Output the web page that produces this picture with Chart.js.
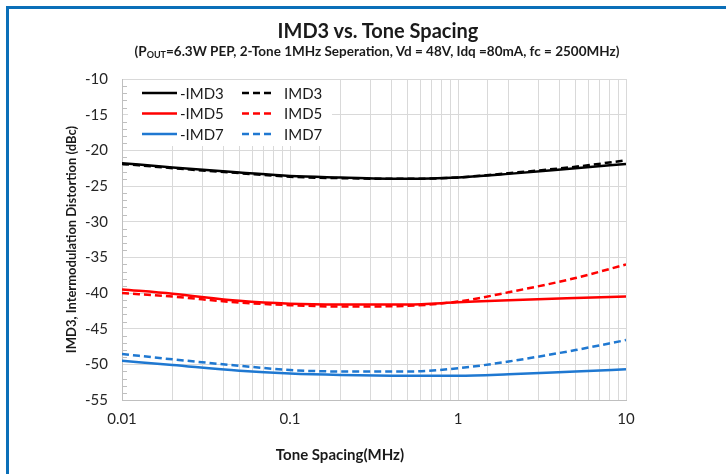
<!DOCTYPE html>
<html>
<head>
<meta charset="utf-8">
<script src="https://cdn.jsdelivr.net/npm/chart.js@4.4.0/dist/chart.umd.min.js"></script>
<style>
  html, body { margin: 0; padding: 0; background: #fff; }
  #wrap { position: relative; width: 726px; height: 474px; overflow: hidden; font-family: Lato, "Open Sans", sans-serif; color: #1a1a1a; }
  #frame { position: absolute; left: 6px; top: 6px; width: 760px; height: 500px; border-top: 3px solid #0b6fb8; border-left: 3px solid #0b6fb8; }
  .txt { position: absolute; white-space: nowrap; font-weight: bold; transform: translateX(-50%); }
  #title { left: 378px; top: 18px; font-size: 20px; }
  #subtitle { left: 377px; top: 43px; font-size: 13.5px; }
  #subtitle sub { font-size: 9px; vertical-align: -2px; }
  #xtitle { left: 340px; top: 445px; font-size: 15px; }
  canvas { position: absolute; left: 0; top: 0; }
</style>
</head>
<body>
<div id="wrap">
  <canvas id="myChart" width="726" height="474"></canvas>
  <div id="frame"></div>
  <div class="txt" id="title">IMD3 vs. Tone Spacing</div>
  <div class="txt" id="subtitle">(P<sub>OUT</sub>=6.3W PEP, 2-Tone 1MHz Seperation, Vd = 48V, Idq =80mA, fc = 2500MHz)</div>
  <div class="txt" id="xtitle">Tone Spacing(MHz)</div>
</div>
<script>
// tone spacing in MHz (log axis)
const toneSpacing = [0.01, 0.02, 0.05, 0.1, 0.2, 0.5, 1, 2, 5, 10];

// dBc values
const imd3Lower = [-21.8, -22.4, -23.1, -23.6, -23.8, -24.0, -23.8, -23.3, -22.5, -21.9];
const imd3Upper = [-21.9, -22.5, -23.2, -23.7, -23.9, -24.0, -23.8, -23.2, -22.3, -21.4];
const imd5Lower = [-39.5, -40.1, -41.1, -41.5, -41.6, -41.6, -41.3, -41.0, -40.7, -40.5];
const imd5Upper = [-40.0, -40.5, -41.35, -41.7, -41.9, -41.8, -41.2, -39.9, -37.9, -36.0];
const imd7Lower = [-49.5, -50.1, -50.9, -51.3, -51.5, -51.6, -51.6, -51.4, -51.0, -50.7];
const imd7Upper = [-48.55, -49.3, -50.2, -50.8, -51.0, -51.0, -50.55, -49.6, -48.0, -46.6];

const seriesNames = ['-IMD3', 'IMD3', '-IMD5', 'IMD5', '-IMD7', 'IMD7'];
const seriesValues = [imd3Lower, imd3Upper, imd5Lower, imd5Upper, imd7Lower, imd7Upper];
const seriesColors = ['#000000', '#000000', '#ff0000', '#ff0000', '#1f78d1', '#1f78d1'];

const yMin = -55, yMax = -10;

const FONT = 'Lato, "Open Sans", sans-serif';

const toPoints = (vals) => vals.map((v, i) => ({ x: toneSpacing[i], y: v }));

// legend drawn inside the plot, two columns, over a white box
const legendBox = {
    id: 'legendBox',
    beforeDatasetsDraw(chart) {
        const { ctx, chartArea } = chart;
        const L = chartArea.left, T = chartArea.top;
        ctx.save();
        ctx.fillStyle = '#fff';
        ctx.fillRect(L + 6, T + 1, 204, 66);

        // minor ticks on the y axis
        const y = chart.scales.y;
        ctx.strokeStyle = '#bfbfbf';
        ctx.lineWidth = 1;
        for (let v = yMin + 1; v < yMax; v++) {
            if (v % 5 === 0) continue;
            const py = Math.round(y.getPixelForValue(v)) + 0.5;
            ctx.beginPath();
            ctx.moveTo(L, py);
            ctx.lineTo(L + 5, py);
            ctx.stroke();
        }

        ctx.font = '15px ' + FONT;
        ctx.textBaseline = 'middle';
        chart.data.datasets.forEach((ds, i) => {
            const col = i % 2, row = Math.floor(i / 2);
            const x0 = L + (col === 0 ? 20 : 120);
            const x1 = x0 + (col === 0 ? 35 : 30);
            const yy = T + 14 + row * 20.5;
            ctx.strokeStyle = ds.borderColor;
            ctx.lineWidth = 2.5;
            ctx.setLineDash(ds.borderDash || []);
            ctx.beginPath();
            ctx.moveTo(x0, yy);
            ctx.lineTo(x1, yy);
            ctx.stroke();
            ctx.setLineDash([]);
            ctx.fillStyle = '#1a1a1a';
            ctx.fillText(ds.label, col === 0 ? x1 + 3 : x1 + 12, yy + 1);
        });
        ctx.restore();
    }
};

const isDecade = (v) => Math.abs(Math.log10(v) - Math.round(Math.log10(v))) < 1e-6;

new Chart(document.getElementById('myChart'), {
    type: 'line',
    data: {
        datasets: seriesNames.map((name, i) => ({
            label: name,
            data: toPoints(seriesValues[i]),
            borderColor: seriesColors[i],
            borderWidth: 2.5,
            borderDash: i % 2 === 1 ? [7, 4] : [],
            pointRadius: 0,
            fill: false,
            cubicInterpolationMode: 'monotone'
        }))
    },
    options: {
        responsive: false,
        animation: false,
        layout: { padding: { left: 60, right: 100, top: 79, bottom: 8 } },
        plugins: {
            legend: { display: false },
            title: { display: false },
            tooltip: { enabled: false }
        },
        scales: {
            x: {
                type: 'logarithmic',
                min: 0.01,
                max: 10,
                afterFit: (s) => { s.height = 66; },
                grid: { color: '#d9d9d9', drawTicks: false },
                border: { color: '#bfbfbf' },
                ticks: {
                    autoSkip: false,
                    maxRotation: 0,
                    padding: 10,
                    color: '#262626',
                    font: { family: FONT, size: 15 },
                    callback: (v) => isDecade(v) ? String(+v.toPrecision(3)) : ''
                }
            },
            y: {
                min: yMin,
                max: yMax,
                afterFit: (s) => { s.width = 62; },
                grid: { color: '#d9d9d9', drawTicks: false },
                border: { color: '#bfbfbf' },
                ticks: {
                    stepSize: 5,
                    padding: 14,
                    color: '#262626',
                    font: { family: FONT, size: 15 }
                },
                title: {
                    display: true,
                    text: 'IMD3, Intermodulation Distortion (dBc)',
                    color: '#1a1a1a',
                    font: { family: FONT, size: 13, weight: 'bold' },
                    padding: { top: 4, bottom: 0 }
                }
            }
        }
    },
    plugins: [legendBox]
});
</script>
</body>
</html>
